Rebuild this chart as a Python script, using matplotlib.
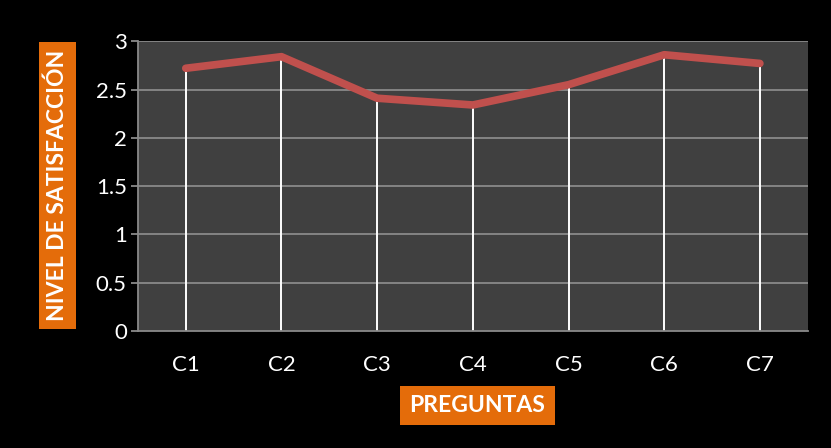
import matplotlib
matplotlib.use("Agg")
import matplotlib.pyplot as plt

categories = ["C1", "C2", "C3", "C4", "C5", "C6", "C7"]
values = [2.72, 2.84, 2.41, 2.34, 2.55, 2.86, 2.77]
yticks = [0, 0.5, 1, 1.5, 2, 2.5, 3]
ytick_labels = ["0", "0.5", "1", "1.5", "2", "2.5", "3"]

plt.rcParams['font.family'] = ['Lato', 'DejaVu Sans']

fig = plt.figure(figsize=(8.31, 4.48), dpi=100, facecolor="black")
ax = fig.add_axes([0.166, 0.261, 0.806, 0.647])
ax.set_facecolor("#404040")

x = list(range(len(categories)))
ax.set_xlim(-0.5, len(categories) - 0.5)
ax.set_ylim(0, 3)

for yv in yticks[1:]:
    ax.axhline(yv, color="#8a8a8a", lw=1.3, zorder=1)

ax.vlines(x, 0, values, color="white", lw=1.4, zorder=2)
ax.plot(x, values, color="#C0504D", lw=5.5, solid_capstyle="round",
        solid_joinstyle="round", zorder=3)

ax.set_xticks(x)
ax.set_xticklabels(categories, color="white", fontsize=16)
ax.set_yticks(yticks)
ax.set_yticklabels(ytick_labels, color="white", fontsize=16)
ax.tick_params(axis="x", length=0, pad=17)
ax.tick_params(axis="y", length=5, color="#8a8a8a", width=1.3, pad=3)
for s in ["top", "right"]:
    ax.spines[s].set_visible(False)
ax.spines["left"].set_color("#8a8a8a")
ax.spines["left"].set_linewidth(1.3)
ax.spines["bottom"].set_color("#8a8a8a")
ax.spines["bottom"].set_linewidth(1.3)

fig.text(57.5 / 831, 1 - 185.5 / 448, "NIVEL DE SATISFACCIÓN", rotation=90,
         ha="center", va="center", color="white", fontsize=16.5, fontweight="bold",
         bbox=dict(boxstyle="square,pad=0.35", facecolor="#E46C0A", edgecolor="none"))
fig.text(477.5 / 831, 1 - 405.5 / 448, "PREGUNTAS",
         ha="center", va="center", color="white", fontsize=16.5, fontweight="bold",
         bbox=dict(boxstyle="square,pad=0.4", facecolor="#E46C0A", edgecolor="none"))

fig.savefig("out.png", dpi=100, facecolor="black")
